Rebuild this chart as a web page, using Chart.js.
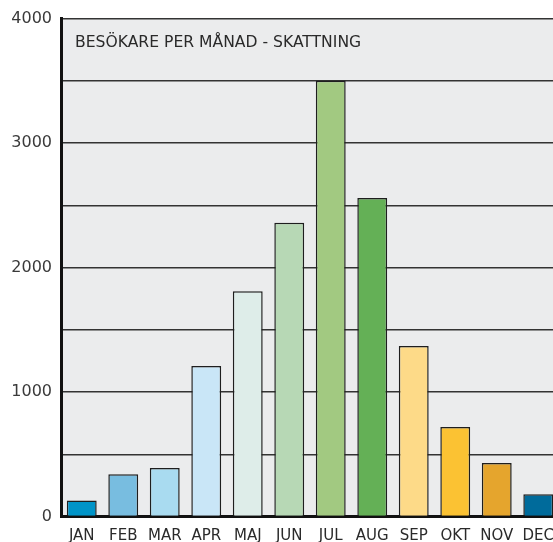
<!DOCTYPE html>
<html>
<head>
<meta charset="utf-8">
<script src="https://cdn.jsdelivr.net/npm/chart.js@4/dist/chart.umd.min.js"></script>
<style>
html,body{margin:0;padding:0;background:#fff;overflow:hidden;width:553px;height:542px;}
#wrap{position:absolute;left:0;top:0;width:566px;height:542px;}
</style>
</head>
<body>
<div id="wrap"><canvas id="c" width="566" height="542"></canvas></div>
<script>
const months = ['JAN','FEB','MAR','APR','MAJ','JUN','JUL','AUG','SEP','OKT','NOV','DEC'];
const visitors = [130, 340, 390, 1210, 1810, 2360, 3500, 2560, 1370, 720, 430, 180];
const barColors = ['#0094c8','#78bde0','#a9dbf0','#c9e6f7','#deede9','#b7d8b5','#a2c981','#64b056','#fdda88','#fbc233','#e5a52d','#006b9b'];
const yTickLabels = [0, 1000, 2000, 3000, 4000];
const chartTitle = 'BESÖKARE PER MÅNAD - SKATTNING';
const FONT = "'DejaVu Sans'";

const bgPlugin = {
  id: 'bg',
  beforeDraw(chart) {
    const {ctx, chartArea: a} = chart;
    ctx.save();
    ctx.fillStyle = '#ebeced';
    ctx.fillRect(a.left, a.top, a.right - a.left, a.bottom - a.top);
    ctx.restore();
  },
  afterDraw(chart) {
    const {ctx, chartArea: a} = chart;
    ctx.save();
    ctx.fillStyle = '#2a2a2a';
    ctx.font = '15.6px ' + FONT;
    ctx.textBaseline = 'middle';
    ctx.textAlign = 'left';
    ctx.fillText(chartTitle, a.left + 14, a.top + 24.5);
    ctx.restore();
  }
};

new Chart(document.getElementById('c'), {
  type: 'bar',
  data: {
    labels: months,
    datasets: [{
      data: visitors,
      backgroundColor: barColors,
      borderColor: '#1e1e1e',
      borderWidth: 1.5,
      barPercentage: 0.72,
      categoryPercentage: 1
    }]
  },
  options: {
    responsive: false,
    animation: false,
    layout: {padding: {left: 0, right: 7, top: 18, bottom: 0}},
    plugins: {legend: {display: false}, tooltip: {enabled: false}, title: {display: false}},
    scales: {
      x: {
        grid: {display: false, drawTicks: false},
        border: {color: '#111', width: 3},
        ticks: {color: '#2a2a2a', font: {family: FONT, size: 15}, padding: 10.5, maxRotation: 0, autoSkip: false},
        afterFit(s) { s.height = 25.4; }
      },
      y: {
        min: 0, max: 4000,
        grid: {color: '#333', lineWidth: 1.5, drawTicks: false},
        border: {color: '#111', width: 3},
        ticks: {
          stepSize: 500,
          color: '#3a3a3a',
          font: {family: FONT, size: 16},
          padding: 9,
          callback: v => yTickLabels.includes(v) ? String(v) : ''
        },
        afterFit(s) { s.width = 61; }
      }
    }
  },
  plugins: [bgPlugin]
});
</script>
</body>
</html>
